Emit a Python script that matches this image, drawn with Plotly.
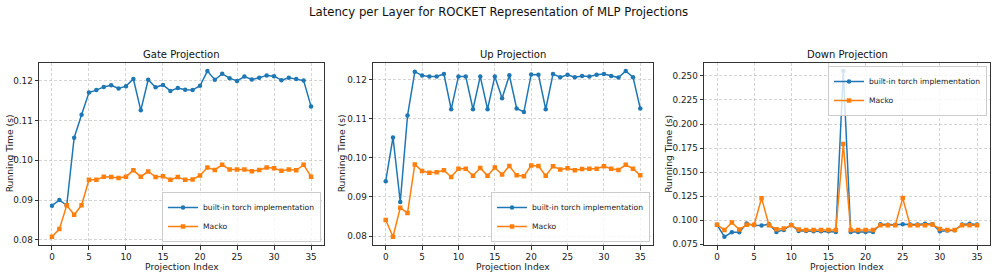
import plotly.graph_objects as go

idx = list(range(36))

gate_torch = [0.0886, 0.0900, 0.0887, 0.1057, 0.1115, 0.1171, 0.1177, 0.1185, 0.1189, 0.1181,
              0.1187, 0.1205, 0.1126, 0.1203, 0.1184, 0.1190, 0.1175, 0.1182, 0.1178, 0.1177,
              0.1188, 0.1225, 0.1203, 0.1218, 0.1207, 0.1200, 0.1211, 0.1204, 0.1208, 0.1214,
              0.1212, 0.1202, 0.1208, 0.1205, 0.1201, 0.1136]
gate_macko = [0.0808, 0.0827, 0.0887, 0.0863, 0.0887, 0.0951, 0.0951, 0.0959, 0.0958, 0.0956,
              0.0959, 0.0975, 0.0959, 0.0972, 0.0958, 0.0960, 0.0951, 0.0958, 0.0951, 0.0952,
              0.0962, 0.0982, 0.0976, 0.0989, 0.0977, 0.0977, 0.0977, 0.0973, 0.0976, 0.0982,
              0.0980, 0.0974, 0.0977, 0.0975, 0.0989, 0.0959]

up_torch = [0.0940, 0.1052, 0.0887, 0.1108, 0.1220, 0.1210, 0.1208, 0.1208, 0.1214, 0.1124,
            0.1208, 0.1208, 0.1124, 0.1208, 0.1124, 0.1208, 0.1152, 0.1211, 0.1126, 0.1117,
            0.1213, 0.1212, 0.1124, 0.1214, 0.1206, 0.1212, 0.1206, 0.1209, 0.1208, 0.1212,
            0.1214, 0.1209, 0.1205, 0.1222, 0.1206, 0.1126]
up_macko = [0.0841, 0.0798, 0.0872, 0.0859, 0.0983, 0.0966, 0.0962, 0.0963, 0.0968, 0.0951,
            0.0972, 0.0972, 0.0954, 0.0974, 0.0954, 0.0975, 0.0957, 0.0979, 0.0955, 0.0953,
            0.0980, 0.0979, 0.0954, 0.0978, 0.0970, 0.0973, 0.0968, 0.0971, 0.0972, 0.0972,
            0.0978, 0.0972, 0.0969, 0.0982, 0.0972, 0.0955]

down_torch = [0.0951, 0.0827, 0.0873, 0.0873, 0.0965, 0.0947, 0.0944, 0.0958, 0.0877, 0.0898,
              0.0951, 0.0887, 0.0887, 0.0884, 0.0884, 0.0884, 0.0877, 0.2552, 0.0877, 0.0877,
              0.0877, 0.0877, 0.0958, 0.0951, 0.0951, 0.0958, 0.0954, 0.0954, 0.0961, 0.0958,
              0.0884, 0.0891, 0.0894, 0.0954, 0.0961, 0.0954]
down_macko = [0.0951, 0.0898, 0.0975, 0.0901, 0.0951, 0.0951, 0.1228, 0.0947, 0.0905, 0.0912,
              0.0947, 0.0901, 0.0898, 0.0898, 0.0898, 0.0898, 0.0898, 0.1791, 0.0898, 0.0898,
              0.0898, 0.0898, 0.0947, 0.0947, 0.0947, 0.1229, 0.0947, 0.0947, 0.0947, 0.0954,
              0.0908, 0.0898, 0.0898, 0.0947, 0.0947, 0.0947]

titles = ["Gate Projection", "Up Projection", "Down Projection"]
series_names = ["built-in torch implementation", "Macko"]
suptitle = "Latency per Layer for ROCKET Representation of MLP Projections"
x_label = "Projection Index"
y_label = "Running Time (s)"
x_ticks = [0, 5, 10, 15, 20, 25, 30, 35]
gate_up_yticks = [0.08, 0.09, 0.10, 0.11, 0.12]
down_yticks = [0.075, 0.100, 0.125, 0.150, 0.175, 0.200, 0.225, 0.250]

BLUE = "#1f77b4"
ORANGE = "#ff7f0e"
FONT = "DejaVu Sans"
W, H = 996, 275

xdomains = [[39 / W, 324 / W], [373 / W, 653 / W], [704 / W, 990 / W]]
ydomain = [1 - 245 / H, 1 - 62.7 / H]
ylabel_x = [9.5, 341.5, 669]

data = [(gate_torch, gate_macko), (up_torch, up_macko), (down_torch, down_macko)]
yranges = [[0.0787, 0.1246], [0.0777, 0.1243], [0.0741, 0.2638]]

fig = go.Figure()
legend_names = ["legend", "legend2", "legend3"]
for i, (t, m) in enumerate(data):
    ax = "" if i == 0 else str(i + 1)
    fig.add_trace(go.Scatter(x=idx, y=t, mode="lines+markers", name=series_names[0],
                             line=dict(color=BLUE, width=1.5),
                             marker=dict(symbol="circle", size=4.5, color=BLUE),
                             xaxis="x" + ax, yaxis="y" + ax, legend=legend_names[i]))
    fig.add_trace(go.Scatter(x=idx, y=m, mode="lines+markers", name=series_names[1],
                             line=dict(color=ORANGE, width=1.5),
                             marker=dict(symbol="square", size=4.5, color=ORANGE),
                             xaxis="x" + ax, yaxis="y" + ax, legend=legend_names[i]))

layout = dict(
    width=W, height=H,
    margin=dict(l=0, r=0, t=0, b=0, autoexpand=False),
    paper_bgcolor="white", plot_bgcolor="white",
    font=dict(family=FONT, size=9, color="#222"),
    showlegend=True,
)

axis_common = dict(showline=True, linecolor="#333", linewidth=1, mirror=True,
                   ticks="outside", ticklen=3.5, tickwidth=1, tickcolor="#333",
                   showgrid=True, gridcolor="rgba(185,185,185,0.6)", griddash="3px,2px",
                   gridwidth=0.8, zeroline=False, automargin=False,
                   tickfont=dict(size=8.8, color="#222"))

for i in range(3):
    ax = "" if i == 0 else str(i + 1)
    layout["xaxis" + ax] = dict(axis_common, domain=xdomains[i], anchor="y" + ax,
                                range=[-1.75, 36.75], tickvals=x_ticks)
    yt = down_yticks if i == 2 else gate_up_yticks
    fmt = ".3f" if i == 2 else ".2f"
    layout["yaxis" + ax] = dict(axis_common, domain=ydomain, anchor="x" + ax,
                                range=yranges[i], tickvals=yt, tickformat=fmt)

leg_common = dict(bgcolor="rgba(255,255,255,0.8)", bordercolor="rgba(204,204,204,1)",
                  borderwidth=1, font=dict(size=7.6, color="#222"), tracegroupgap=0,
                  itemwidth=30, xanchor="right")
layout["legend"] = dict(leg_common, x=321 / W, y=1 - 242 / H, yanchor="bottom")
layout["legend2"] = dict(leg_common, x=650 / W, y=1 - 242 / H, yanchor="bottom")
layout["legend3"] = dict(leg_common, x=987 / W, y=1 - 66 / H, yanchor="top")

annotations = [dict(text=suptitle, x=0.5, y=1 - 12 / H, xref="paper", yref="paper",
                    showarrow=False, font=dict(size=11.7, color="#111"),
                    xanchor="center", yanchor="middle")]
for i in range(3):
    cx = (xdomains[i][0] + xdomains[i][1]) / 2
    annotations.append(dict(text=titles[i], x=cx, y=1 - 54.5 / H, xref="paper", yref="paper",
                            showarrow=False, font=dict(size=10, color="#111"),
                            xanchor="center", yanchor="middle"))
    annotations.append(dict(text=x_label, x=cx, y=1 - 266 / H, xref="paper", yref="paper",
                            showarrow=False, font=dict(size=9.2, color="#222"),
                            xanchor="center", yanchor="middle"))
    annotations.append(dict(text=y_label, x=ylabel_x[i] / W, y=(ydomain[0] + ydomain[1]) / 2,
                            xref="paper", yref="paper", textangle=-90,
                            showarrow=False, font=dict(size=9.2, color="#222"),
                            xanchor="center", yanchor="middle"))
layout["annotations"] = annotations

fig.update_layout(**layout)
fig.write_html("out.html", config={"displayModeBar": False},
               post_script="document.body.style.margin='0';document.body.style.overflow='hidden';")
